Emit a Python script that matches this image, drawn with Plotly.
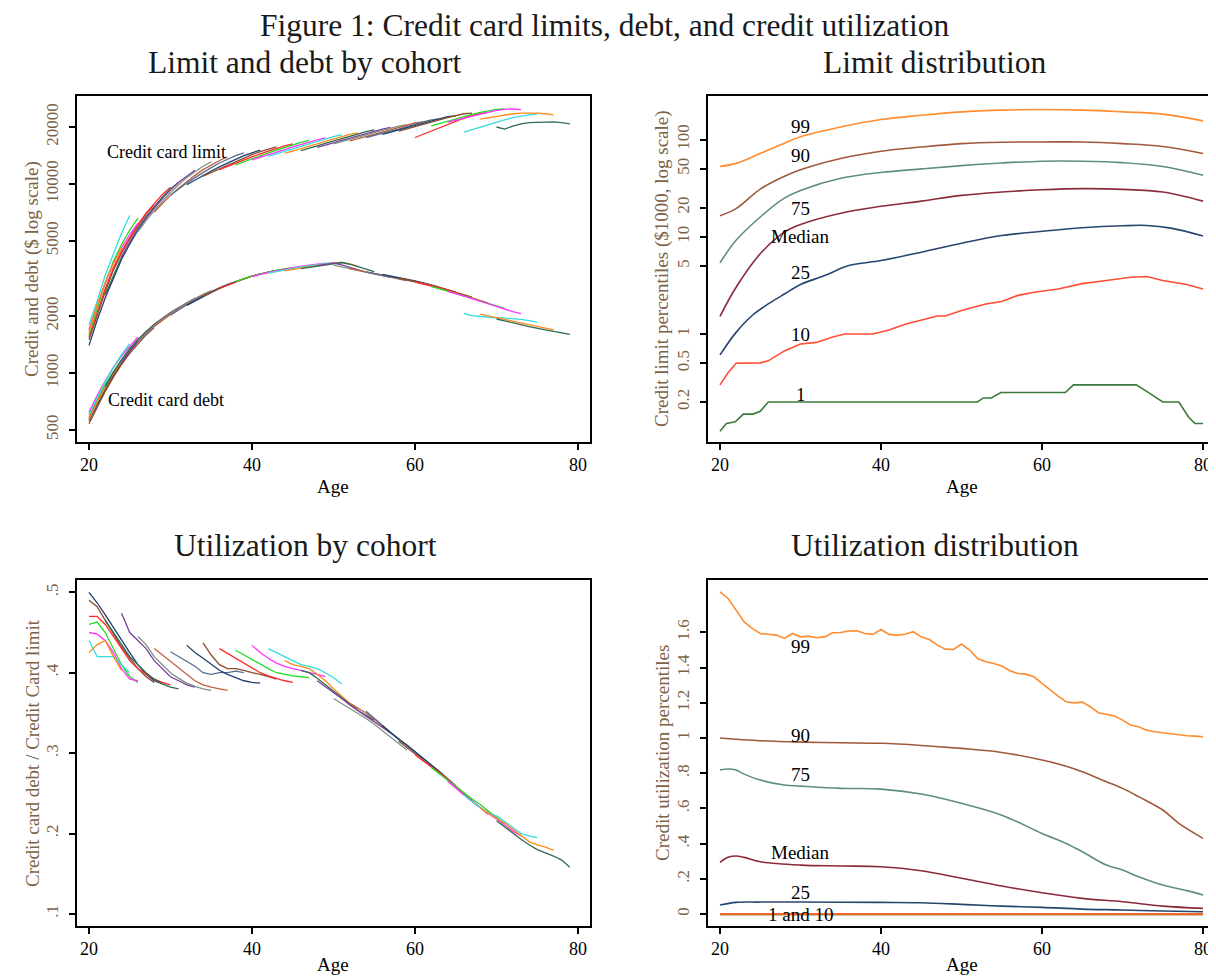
import math
import plotly.graph_objects as go

# ---------------- cohort panels (left) ----------------
cohort_start = [20, 20, 20, 20, 20, 20, 20,
                22, 24, 26, 28, 30, 32, 34, 36, 38, 40, 42, 44, 46, 48,
                50, 52, 54, 56, 58, 60, 62, 64, 66, 68, 70]

# credit card limit by cohort, $1000
cohort_limit_k = [
    [1.4, 1.9, 2.5, 3.2, 4.0, 4.8, 5.7, 6.6, 7.5, 8.4],
    [1.5, 2.0, 2.7, 3.5, 4.3, 5.1, 6.0, 6.9, 7.8],
    [1.55, 2.1, 2.8, 3.6, 4.4, 5.2, 6.1, 7.0, 7.9, 8.8, 9.6],
    [1.6, 2.2, 3.0, 3.9, 4.8, 5.7, 6.6],
    [1.7, 2.3, 3.0, 3.8, 4.6, 5.4, 6.2],
    [1.8, 2.4, 3.3, 4.3, 5.5, 6.8],
    [1.65, 2.3, 3.0, 3.8, 4.6],
    [2.6, 3.3, 4.1, 4.9, 5.8, 6.7, 7.6, 8.5, 9.4, 10.2],
    [4.1, 4.9, 5.7, 6.6, 7.5, 8.4, 9.3, 10.2, 11.0, 11.8],
    [5.6, 6.4, 7.2, 8.1, 9.0, 9.9, 10.8, 11.6, 12.4, 13.1],
    [7.1, 7.9, 8.7, 9.5, 10.3, 11.1, 11.9, 12.6, 13.3, 13.9],
    [8.7, 9.4, 10.1, 10.8, 11.5, 12.2, 12.9, 13.5, 14.1, 14.6],
    [9.9, 10.5, 11.1, 11.7, 12.3, 12.9, 13.5, 14.1, 14.6, 15.1],
    [11.0, 11.5, 12.0, 12.6, 13.2, 13.8, 14.3, 14.8, 15.3, 15.7],
    [11.9, 12.4, 12.9, 13.4, 13.9, 14.4, 14.9, 15.4, 15.9, 16.3],
    [12.6, 13.1, 13.6, 14.1, 14.6, 15.1, 15.6, 16.1, 16.6, 17.0],
    [13.4, 13.8, 14.2, 14.7, 15.2, 15.7, 16.2, 16.7, 17.1, 17.5],
    [14.0, 14.4, 14.8, 15.3, 15.8, 16.3, 16.8, 17.3, 17.8, 18.2],
    [14.5, 14.9, 15.3, 15.8, 16.3, 16.8, 17.3, 17.8, 18.3, 18.6],
    [15.0, 15.4, 15.9, 16.4, 16.9, 17.4, 17.9, 18.4, 18.9, 19.3],
    [15.6, 16.0, 16.5, 17.0, 17.5, 18.0, 18.5, 19.0, 19.5, 19.9],
    [16.3, 16.7, 17.2, 17.7, 18.2, 18.7, 19.2, 19.7, 20.2, 20.6],
    [16.9, 17.3, 17.8, 18.3, 18.8, 19.3, 19.9, 20.5, 21.0, 21.3],
    [17.6, 18.0, 18.5, 19.0, 19.5, 20.1, 20.7, 21.3, 21.8, 22.1],
    [18.3, 18.8, 19.3, 19.8, 20.4, 21.0, 21.6, 22.2, 22.7, 22.9],
    [19.0, 19.5, 20.0, 20.6, 21.2, 21.8, 22.4, 23.0, 23.5, 23.7],
    [17.6, 18.3, 19.1, 19.9, 20.7, 21.5, 22.3, 23.0, 23.6, 23.9],
    [20.3, 20.9, 21.5, 22.1, 22.7, 23.3, 23.9, 24.4, 24.8, 24.9],
    [21.2, 21.6, 22.2, 22.8, 23.4, 24.0, 24.5, 24.8, 24.9, 24.7],
    [18.8, 19.4, 20.0, 20.6, 21.2, 21.8, 22.4, 22.9, 23.2, 23.4],
    [22.0, 22.4, 22.8, 23.2, 23.5, 23.7, 23.8, 23.7, 23.5, 23.2],
    [20.0, 19.5, 20.2, 20.8, 21.1, 21.2, 21.3, 21.3, 21.1, 20.8],
]

# credit card debt by cohort, $
cohort_debt = [
    [560, 680, 820, 970, 1130, 1300, 1460, 1620, 1770, 1910],
    [540, 660, 800, 950, 1110, 1270, 1430, 1590, 1740],
    [580, 710, 850, 1000, 1160, 1320, 1480, 1640, 1790, 1940, 2080],
    [600, 730, 870, 1020, 1180, 1340, 1500],
    [620, 760, 910, 1070, 1230, 1390, 1550],
    [600, 740, 900, 1070, 1250, 1430],
    [570, 700, 840, 1000, 1160],
    [850, 1010, 1170, 1340, 1500, 1660, 1810, 1950, 2090, 2220],
    [1130, 1300, 1470, 1630, 1790, 1940, 2080, 2220, 2350, 2480],
    [1460, 1620, 1780, 1930, 2070, 2210, 2350, 2480, 2610, 2730],
    [1760, 1900, 2040, 2180, 2320, 2450, 2580, 2700, 2820, 2930],
    [2020, 2160, 2300, 2430, 2560, 2690, 2820, 2940, 3050, 3150],
    [2280, 2410, 2540, 2670, 2800, 2920, 3040, 3150, 3250, 3340],
    [2540, 2670, 2800, 2920, 3040, 3150, 3250, 3340, 3420, 3490],
    [2800, 2920, 3040, 3150, 3250, 3340, 3420, 3490, 3550, 3600],
    [3040, 3150, 3250, 3340, 3420, 3490, 3550, 3610, 3660, 3700],
    [3230, 3320, 3400, 3470, 3540, 3600, 3660, 3720, 3770, 3810],
    [3370, 3440, 3510, 3570, 3630, 3690, 3750, 3800, 3830, 3790],
    [3470, 3530, 3590, 3650, 3710, 3770, 3820, 3850, 3780, 3660],
    [3560, 3620, 3680, 3740, 3800, 3840, 3760, 3640, 3530, 3440],
    [3700, 3760, 3810, 3730, 3620, 3510, 3420, 3340, 3270, 3200],
    [3720, 3650, 3570, 3490, 3420, 3350, 3280, 3210, 3140, 3070],
    [3560, 3490, 3420, 3360, 3300, 3240, 3170, 3100, 3030, 2960],
    [3430, 3370, 3310, 3250, 3190, 3120, 3050, 2980, 2900, 2820],
    [3320, 3260, 3200, 3140, 3070, 3000, 2920, 2840, 2760, 2680],
    [3180, 3120, 3060, 2990, 2920, 2840, 2760, 2680, 2600, 2520],
    [3020, 2960, 2890, 2820, 2740, 2660, 2580, 2500, 2420, 2340],
    [2860, 2790, 2720, 2640, 2560, 2480, 2400, 2330, 2260, 2200],
    [2700, 2630, 2550, 2470, 2390, 2310, 2240, 2170, 2110, 2060],
    [2060, 2010, 1990, 1970, 1960, 1950, 1940, 1920, 1890, 1860],
    [2050, 2000, 1960, 1920, 1880, 1840, 1800, 1760, 1720, 1690],
    [1930, 1880, 1840, 1800, 1760, 1720, 1690, 1660, 1630, 1600],
]

# credit card debt / credit card limit by cohort
cohort_util = [
    [.50, .487, .472, .456, .44, .425, .41, .398, .39, .386],
    [.49, .482, .465, .448, .432, .418, .405, .395, .388],
    [.47, .47, .46, .445, .43, .415, .405, .398, .392, .388, .385],
    [.46, .463, .45, .43, .41, .395, .388],
    [.45, .448, .44, .425, .405, .392, .39],
    [.44, .42, .42, .42, .41, .40],
    [.425, .435, .44, .42, .403],
    [.465, .45, .435, .42, .41, .40, .392, .386, .382, .38],
    [.474, .45, .44, .43, .415, .405, .395, .39, .385, .382],
    [.445, .435, .42, .41, .40, .393, .387, .383, .38, .378],
    [.43, .422, .414, .406, .398, .39, .385, .382, .38, .378],
    [.426, .42, .414, .408, .40, .398, .40, .40, .402, .40],
    [.434, .425, .418, .41, .403, .398, .394, .39, .388, .387],
    [.437, .422, .41, .405, .405, .403, .40, .398, .395, .392],
    [.43, .424, .418, .412, .406, .40, .396, .393, .39, .388],
    [.428, .422, .416, .41, .405, .40, .398, .396, .395, .394],
    [.434, .425, .418, .412, .408, .405, .403, .40, .398, .395],
    [.43, .425, .42, .415, .41, .408, .405, .40, .394, .386],
    [.415, .41, .408, .405, .398, .39, .38, .371, .362, .355],
    [.403, .40, .393, .385, .377, .368, .36, .353, .347, .341],
    [.39, .383, .376, .368, .36, .353, .347, .34, .333, .325],
    [.368, .362, .356, .35, .343, .336, .328, .32, .312, .304],
    [.362, .356, .35, .342, .333, .325, .318, .31, .302, .293],
    [.352, .343, .334, .326, .318, .31, .302, .294, .285, .276],
    [.334, .325, .317, .31, .302, .294, .286, .277, .268, .259],
    [.315, .307, .30, .292, .284, .276, .268, .259, .25, .241],
    [.298, .29, .283, .276, .268, .258, .249, .24, .232, .224],
    [.282, .274, .266, .258, .25, .243, .236, .228, .22, .212],
    [.265, .256, .248, .24, .232, .225, .218, .21, .203, .197],
    [.248, .24, .232, .226, .222, .215, .207, .20, .197, .195],
    [.232, .225, .219, .213, .205, .198, .19, .186, .183, .179],
    [.216, .208, .20, .193, .186, .18, .176, .172, .167, .158],
]

cohort_colors = ["#1c3f6e", "#8e4a2e", "#ff2b2b", "#22dd22", "#ff33ff", "#33dddd",
                 "#ff8c1a", "#2f6b4f", "#7b3fa0", "#7f917f", "#c2603f", "#55708f"]

# ---------------- limit distribution (top right), $1000 ----------------
lim_p99_age = [20, 22, 25, 28, 30, 35, 40, 45, 50, 55, 60, 65, 70, 75, 80]
lim_p99 = [53, 57, 72, 92, 107, 135, 161, 178, 193, 201, 204, 201, 193, 183, 156]
lim_p90 = [16.5, 19.5, 31, 42, 49, 64, 76, 84, 91, 94, 94.6, 94.6, 91, 85, 72]
lim_p75 = [5.4, 9.2, 16, 25, 30, 40, 46, 50, 54, 57.5, 60, 60, 58, 53, 43]
lim_p50 = [1.52, 3.03, 6.7, 11.2, 13.4, 17.5, 20.6, 23.3, 26.7, 28.9, 30.5, 31.3, 30.8, 28.9, 23.3]
lim_p25_age = [20, 22, 24, 26, 28, 30, 33, 36, 40, 45, 50, 55, 60, 65, 70, 73, 76, 80]
lim_p25 = [0.61, 1.04, 1.55, 2.04, 2.58, 3.23, 3.99, 5.06, 5.7, 6.95, 8.6, 10.3, 11.4, 12.4, 13.0, 13.1, 12.3, 10.2]
lim_p10_age = [20, 21, 22, 25, 26, 28, 30, 32, 34, 35.5, 39, 41, 43, 45, 47, 48, 50, 53, 55, 57,
               59, 62, 65, 68, 71, 73, 75, 78, 80]
lim_p10 = [0.30, 0.40, 0.50, 0.505, 0.53, 0.67, 0.79, 0.82, 0.93, 1.0, 1.0, 1.10, 1.26, 1.39, 1.53,
           1.53, 1.75, 2.04, 2.16, 2.5, 2.69, 2.9, 3.3, 3.55, 3.84, 3.9, 3.55, 3.23, 2.9]
lim_p1_age = [20, 20.8, 21.9, 22.9, 24.1, 25, 26, 52, 52.7, 53.7, 54.9, 62.9, 63.9, 71.7, 72.9,
              75, 77, 78.2, 79, 80]
lim_p1 = [0.1, 0.12, 0.125, 0.15, 0.15, 0.16, 0.2, 0.2, 0.22, 0.22, 0.25, 0.25, 0.3, 0.3, 0.26,
          0.2, 0.2, 0.14, 0.12, 0.12]

# ---------------- utilization distribution (bottom right) ----------------
ut_p99_age = list(range(20, 81))
ut_p99 = [1.831, 1.793, 1.727, 1.66, 1.623, 1.594, 1.59, 1.585, 1.566, 1.594, 1.575, 1.579, 1.57,
          1.575, 1.598, 1.6, 1.608, 1.61, 1.594, 1.589, 1.617, 1.589, 1.585, 1.59, 1.604, 1.575,
          1.56, 1.528, 1.505, 1.503, 1.534, 1.5, 1.452, 1.433, 1.424, 1.409, 1.382, 1.367, 1.363,
          1.348, 1.31, 1.272, 1.238, 1.206, 1.2, 1.204, 1.178, 1.144, 1.136, 1.125, 1.102, 1.074,
          1.064, 1.045, 1.036, 1.03, 1.023, 1.017, 1.013, 1.011, 1.007]
ut_p90_age = [20, 25, 30, 35, 40, 45, 50, 55, 60, 63, 65, 68, 70, 72, 75, 77, 80]
ut_p90 = [1.0, 0.985, 0.977, 0.973, 0.97, 0.958, 0.941, 0.918, 0.875, 0.84, 0.809, 0.752, 0.714,
          0.667, 0.591, 0.515, 0.43]
ut_p75_age = [20, 21, 22, 23, 25, 28, 30, 35, 40, 45, 50, 55, 60, 63, 65, 68, 70, 72, 75, 78, 80]
ut_p75 = [0.818, 0.824, 0.818, 0.795, 0.761, 0.733, 0.727, 0.714, 0.71, 0.682, 0.629, 0.562, 0.458,
          0.401, 0.354, 0.278, 0.25, 0.212, 0.165, 0.133, 0.108]
ut_p50_age = [20, 21, 22, 23, 25, 30, 35, 40, 45, 50, 55, 60, 65, 70, 75, 80]
ut_p50 = [0.293, 0.322, 0.33, 0.322, 0.297, 0.278, 0.273, 0.269, 0.246, 0.203, 0.159, 0.121, 0.089,
          0.07, 0.045, 0.032]
ut_p25_age = [20, 22, 25, 30, 40, 45, 50, 55, 60, 65, 70, 75, 80]
ut_p25 = [0.051, 0.066, 0.068, 0.068, 0.066, 0.064, 0.055, 0.045, 0.038, 0.028, 0.023, 0.017, 0.013]
ut_p10_age = [20, 80]
ut_p10 = [0.0, 0.0]
ut_p1_age = [20, 80]
ut_p1 = [0.0, 0.0]

# tick labels
x_ticks = [20, 40, 60, 80]
tl_ticks = [500, 1000, 2000, 5000, 10000, 20000]
tr_ticks = [0.2, 0.5, 1, 5, 10, 20, 50, 100]
tr_text = ["0.2", "0.5", "1", "5", "10", "20", "50", "100"]
bl_ticks = [0.1, 0.2, 0.3, 0.4, 0.5]
bl_text = [".1", ".2", ".3", ".4", ".5"]
br_ticks = [0, 0.2, 0.4, 0.6, 0.8, 1.0, 1.2, 1.4, 1.6]
br_text = ["0", ".2", ".4", ".6", ".8", "1", "1.2", "1.4", "1.6"]

SERIF = "Liberation Serif, Times New Roman, serif"
YCOL = "#7d6246"
OFF = 8                      # page body margin of the html page
W, H = 1216 - OFF, 976 - OFF

fig = go.Figure()

# ---- left panels: cohorts ----
for i, s in enumerate(cohort_start):
    col = cohort_colors[i % len(cohort_colors)]
    ages = list(range(s, s + len(cohort_limit_k[i])))
    fig.add_trace(go.Scatter(x=ages, y=[v * 1000 for v in cohort_limit_k[i]], mode="lines",
                             line=dict(color=col, width=1.3), xaxis="x", yaxis="y",
                             showlegend=False, hoverinfo="skip"))
    ages = list(range(s, s + len(cohort_debt[i])))
    fig.add_trace(go.Scatter(x=ages, y=cohort_debt[i], mode="lines",
                             line=dict(color=col, width=1.3), xaxis="x", yaxis="y",
                             showlegend=False, hoverinfo="skip"))
    ages = list(range(s, s + len(cohort_util[i])))
    fig.add_trace(go.Scatter(x=ages, y=cohort_util[i], mode="lines",
                             line=dict(color=col, width=1.3), xaxis="x3", yaxis="y3",
                             showlegend=False, hoverinfo="skip"))

# ---- top-right: limit distribution ----
lim_series = [
    (lim_p1_age, lim_p1, "#3b7a3b", "linear"),
    (lim_p10_age, lim_p10, "#ff4d33", "linear"),
    (lim_p25_age, lim_p25, "#27466f", "spline"),
    (lim_p99_age, lim_p50, "#8a2b3b", "spline"),
    (lim_p99_age, lim_p75, "#5f8f76", "spline"),
    (lim_p99_age, lim_p90, "#a0593b", "spline"),
    (lim_p99_age, lim_p99, "#ff8c2e", "spline"),
]
for ages, vals, col, shape in lim_series:
    fig.add_trace(go.Scatter(x=ages, y=vals, mode="lines", line=dict(color=col, width=1.6, shape=shape),
                             xaxis="x2", yaxis="y2", showlegend=False, hoverinfo="skip"))

# ---- bottom-right: utilization distribution ----
ut_series = [
    (ut_p1_age, ut_p1, "#2e7d32", "linear", 2.2),
    (ut_p10_age, ut_p10, "#f0662a", "linear", 2.2),
    (ut_p25_age, ut_p25, "#27466f", "spline", 1.6),
    (ut_p50_age, ut_p50, "#8a2b3b", "spline", 1.6),
    (ut_p75_age, ut_p75, "#5f8f76", "spline", 1.6),
    (ut_p90_age, ut_p90, "#a0593b", "spline", 1.6),
    (ut_p99_age, ut_p99, "#ff8c2e", "linear", 1.6),
]
for ages, vals, col, shape, w in ut_series:
    fig.add_trace(go.Scatter(x=ages, y=vals, mode="lines", line=dict(color=col, width=w, shape=shape),
                             xaxis="x4", yaxis="y4", showlegend=False, hoverinfo="skip"))

# ---- axes ----
def xdom(a, b):
    return [(a - OFF) / W, min(1.0, (b - OFF) / W)]

def ydom(top, bottom):
    return [1 - (bottom - OFF) / H, 1 - (top - OFF) / H]

axis_common = dict(showline=True, linecolor="black", linewidth=1.7, mirror=True,
                   ticks="outside", ticklen=6, tickwidth=1.5, tickcolor="black",
                   showgrid=False, zeroline=False)

xl_dom = xdom(77, 590)
xr_dom = xdom(708, 1213)
yt_dom = ydom(96, 442)
yb_dom = ydom(580, 926)

xfont = dict(family=SERIF, size=18, color="black")
yfont = dict(family=SERIF, size=17, color=YCOL)

fig.update_layout(
    width=W, height=H, margin=dict(l=0, r=0, t=0, b=0),
    paper_bgcolor="white", plot_bgcolor="white", showlegend=False,
    xaxis=dict(domain=xl_dom, anchor="y", range=[18.53, 81.47], tickvals=x_ticks,
               tickfont=xfont, **axis_common),
    yaxis=dict(domain=yt_dom, anchor="x", type="log", range=[2.635, 4.465],
               tickvals=tl_ticks, ticktext=[str(v) for v in tl_ticks], tickangle=-90,
               tickfont=yfont, ticklabelstandoff=4, **axis_common),
    xaxis2=dict(domain=xr_dom, anchor="y2", range=[18.51, 81.24], tickvals=x_ticks,
                tickfont=xfont, **axis_common),
    yaxis2=dict(domain=yt_dom, anchor="x2", type="log", range=[-1.111, 2.449],
                tickvals=tr_ticks, ticktext=tr_text, tickangle=-90,
                tickfont=yfont, ticklabelstandoff=4, **axis_common),
    xaxis3=dict(domain=xl_dom, anchor="y3", range=[18.53, 81.47], tickvals=x_ticks,
                tickfont=xfont, **axis_common),
    yaxis3=dict(domain=yb_dom, anchor="x3", range=[0.085, 0.5153],
                tickvals=bl_ticks, ticktext=bl_text, tickangle=-90,
                tickfont=yfont, ticklabelstandoff=4, **axis_common),
    xaxis4=dict(domain=xr_dom, anchor="y4", range=[18.51, 81.24], tickvals=x_ticks,
                tickfont=xfont, **axis_common),
    yaxis4=dict(domain=yb_dom, anchor="x4", range=[-0.068, 1.898],
                tickvals=br_ticks, ticktext=br_text, tickangle=-90,
                tickfont=yfont, ticklabelstandoff=4, **axis_common),
)

ann = []
def paper_text(text, x, y, size, color="black", angle=0):
    ann.append(dict(text=text, x=(x - OFF) / W, y=1 - (y - OFF) / H, xref="paper", yref="paper",
                    showarrow=False, textangle=angle, xanchor="center", yanchor="middle",
                    font=dict(family=SERIF, size=size, color=color)))

paper_text("Figure 1: Credit card limits, debt, and credit utilization", 605, 25, 31.5, "#1a1a1a")
paper_text("Limit and debt by cohort", 304, 63, 31.5, "#1a1a1a")
paper_text("Limit distribution", 935, 63, 31.5, "#1a1a1a")
paper_text("Utilization by cohort", 305, 545, 31.5, "#1a1a1a")
paper_text("Utilization distribution", 935, 545, 31.5, "#1a1a1a")
paper_text("Age", 333, 487, 19)
paper_text("Age", 962, 487, 19)
paper_text("Age", 333, 964, 19)
paper_text("Age", 962, 964, 19)
paper_text("Credit and debt ($ log scale)", 32, 269, 19, YCOL, -90)
paper_text("Credit limit percentiles ($1000, log scale)", 662, 269, 19, YCOL, -90)
paper_text("Credit card debt / Credit Card limit", 32, 753, 19, YCOL, -90)
paper_text("Credit utilization percentiles", 662, 753, 19, YCOL, -90)

def data_text(text, x, y, xr, yr, size=19, anchor="center"):
    ann.append(dict(text=text, x=x, y=y, xref=xr, yref=yr, showarrow=False,
                    xanchor=anchor, yanchor="middle",
                    font=dict(family=SERIF, size=size, color="black")))

data_text("Credit card limit", 22.0, math.log10(14750), "x", "y", 18, "left")
data_text("Credit card debt", 22.1, math.log10(720), "x", "y", 18, "left")

tr_labels = [("99", 135), ("90", 69), ("75", 19.5), ("Median", 10), ("25", 4.3), ("10", 1.0), ("1", 0.24)]
for t, v in tr_labels:
    data_text(t, 30, math.log10(v), "x2", "y2")
br_labels = [("99", 1.522), ("90", 1.013), ("75", 0.795), ("Median", 0.348), ("25", 0.121), ("1 and 10", 0.0)]
for t, v in br_labels:
    data_text(t, 30, v, "x4", "y4")

fig.update_layout(annotations=ann)
fig.write_html("out.html")
